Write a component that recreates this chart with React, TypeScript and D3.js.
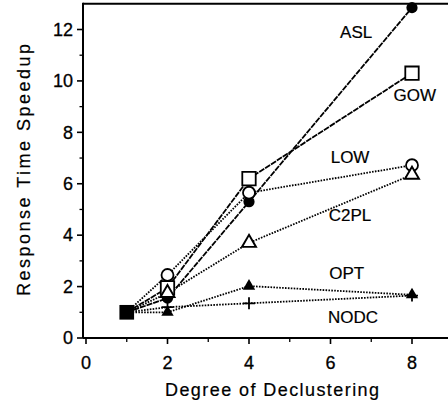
import * as d3 from 'd3';
import React from 'react';

// chart data
const degrees = [1, 2, 4, 8];
const seriesNames = ['ASL', 'GOW', 'LOW', 'C2PL', 'OPT', 'NODC'];
const aslValues = [1, 1.55, 5.3, 12.85];
const gowValues = [1, 1.95, 6.2, 10.3];
const lowValues = [1, 2.45, 5.65, 6.72];
const c2plValues = [1, 1.75, 3.7, 6.35];
const optValues = [1, 1.0, 2.02, 1.68];
const nodcValues = [1, 1.2, 1.35, 1.65];
const xTicks = [0, 2, 4, 6, 8];
const yTicks = [0, 2, 4, 6, 8, 10, 12];

// where each series name sits, in data units
const labelSpots: [number, number][] = [
  [6.63, 11.9], [8.07, 9.45], [6.48, 7.04], [6.48, 4.78], [6.4, 2.53], [6.55, 0.82],
];

const W = 448;
const H = 402;
const FONT = '"Liberation Sans", Arial, Helvetica, sans-serif';

const x = d3.scaleLinear().domain([0, 8]).range([86, 412]);
const y = d3.scaleLinear().domain([0, 12]).range([338, 29.5]);
const axisX = 83;

const line = d3.line<[number, number]>()
  .x(d => x(d[0]))
  .y(d => y(d[1]));

const allValues = [aslValues, gowValues, lowValues, c2plValues, optValues, nodcValues];
const dashes = ['6,1', '6,1', '1.6,1.3', '1.6,1.3', '1.6,1.3', '1.6,1.3'];

function Marker({ name, cx, cy }: { name: string; cx: number; cy: number }) {
  const t = `translate(${cx},${cy})`;
  if (name === 'ASL') return <circle cx={cx} cy={cy} r={5.6} fill="#000" />;
  if (name === 'GOW')
    return <path transform={t} d={d3.symbol(d3.symbolSquare, 180)()!} fill="#fff" stroke="#000" strokeWidth={1.8} />;
  if (name === 'LOW') return <circle cx={cx} cy={cy} r={6} fill="#fff" stroke="#000" strokeWidth={1.8} />;
  if (name === 'C2PL')
    return <path transform={t} d={d3.symbol(d3.symbolTriangle, 85)()!} fill="#fff" stroke="#000" strokeWidth={1.9} />;
  if (name === 'OPT')
    return <path transform={t} d={d3.symbol(d3.symbolTriangle, 66)()!} fill="#000" />;
  return <path transform={t} d="M-6,0H6M0,-6V6" stroke="#000" strokeWidth={1.8} />;
}

export default function App() {
  const minorY = d3.range(1, 13, 2);
  const minorX = d3.range(1, 10, 2);
  const start: [number, number] = [degrees[0], aslValues[0]];

  return (
    <svg width={W} height={H} style={{ position: 'absolute', left: 0, top: 0, background: '#fff' }}>
      <rect width={W} height={H} fill="#fff" />

      {/* frame */}
      <line x1={axisX} x2={W} y1={y(13)} y2={y(13)} stroke="#000" strokeWidth={2} />
      <line x1={axisX} x2={axisX} y1={y(13) - 1} y2={y(0)} stroke="#000" strokeWidth={2} />
      <line x1={axisX} x2={W} y1={y(0)} y2={y(0)} stroke="#000" strokeWidth={2} />

      {/* y axis */}
      {yTicks.map(v => (
        <g key={'y' + v}>
          <line x1={axisX - 6} x2={axisX} y1={y(v)} y2={y(v)} stroke="#000" strokeWidth={1.6} />
          <text x={axisX - 10} y={y(v)} dy="0.35em" textAnchor="end" fontSize={18} fontFamily={FONT}
            stroke="#000" strokeWidth={0.3}>{v}</text>
        </g>
      ))}
      {minorY.map(v => (
        <line key={'my' + v} x1={axisX - 3.5} x2={axisX} y1={y(v)} y2={y(v)} stroke="#000" strokeWidth={1.3} />
      ))}

      {/* x axis */}
      {xTicks.map(v => (
        <g key={'x' + v}>
          <line x1={x(v)} x2={x(v)} y1={y(0)} y2={y(0) + 6} stroke="#000" strokeWidth={1.6} />
          <text x={x(v)} y={369} textAnchor="middle" fontSize={18} fontFamily={FONT}
            stroke="#000" strokeWidth={0.3}>{v}</text>
        </g>
      ))}
      {minorX.map(v => (
        <line key={'mx' + v} x1={x(v)} x2={x(v)} y1={y(0)} y2={y(0) + 4} stroke="#000" strokeWidth={1.3} />
      ))}

      <text x={272} y={396} textAnchor="middle" fontSize={18} fontFamily={FONT} textLength={214} lengthAdjust="spacing"
        stroke="#000" strokeWidth={0.2}>
        Degree of Declustering
      </text>
      <text transform="translate(30,170) rotate(-90)" textAnchor="middle" fontSize={18} fontFamily={FONT}
        textLength={252} lengthAdjust="spacing" stroke="#000" strokeWidth={0.2}>
        Response Time Speedup
      </text>

      {/* series lines */}
      {seriesNames.map((name, i) => (
        <path key={'l' + name}
          d={line(degrees.map((d, j) => [d, allValues[i][j]] as [number, number]))!}
          fill="none" stroke="#000" strokeWidth={1.8} strokeDasharray={dashes[i]} />
      ))}

      {/* markers */}
      {seriesNames.map((name, i) =>
        degrees.slice(1).map((d, j) => (
          <Marker key={name + d} name={name} cx={x(d)} cy={y(allValues[i][j + 1])} />
        ))
      )}
      <path transform={`translate(${x(start[0])},${y(start[1])})`} d={d3.symbol(d3.symbolSquare, 215)()!} fill="#000" />

      {/* series names */}
      {seriesNames.map((name, i) => (
        <text key={'t' + name} x={x(labelSpots[i][0])} y={y(labelSpots[i][1])} dy="0.35em"
          textAnchor="middle" fontSize={17} fontFamily={FONT} stroke="#000" strokeWidth={0.2}>{name}</text>
      ))}
    </svg>
  );
}
